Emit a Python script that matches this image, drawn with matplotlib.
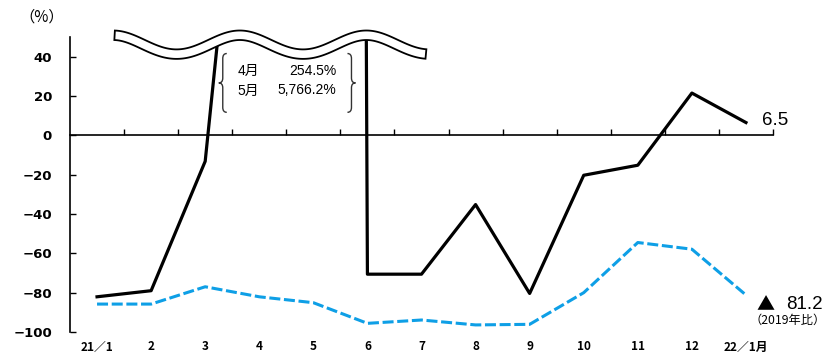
import matplotlib
matplotlib.use("Agg")
import matplotlib.pyplot as plt
import numpy as np
from matplotlib.patches import Polygon, PathPatch
from matplotlib.path import Path

# 月次データ（前年同月比 / 2019年同月比, %）
months = ["21／1", "2", "3", "4", "5", "6", "7", "8", "9", "10", "11", "12", "22／1月"]
yoy = [-82.1, -79.0, -13.2, 254.5, 5766.2, -70.6, -70.6, -35.2, -80.4, -20.3, -15.2, 21.5, 6.5]
vs2019 = [-85.8, -85.8, -77.0, -82.1, -85.1, -95.6, -93.9, -96.4, -96.1, -80.0, -54.5, -57.9, -81.2]
yticks = [-100, -80, -60, -40, -20, 0, 20, 40]

BLUE = "#0E9FE6"

plt.rcParams['font.family'] = ['Liberation Sans', 'Noto Sans CJK JP']

fig = plt.figure(figsize=(8.37, 3.56), dpi=100)
ax = fig.add_axes([70 / 837, 1 - 332 / 356, 703 / 837, 295 / 356])
x = np.arange(len(months))

ax.plot(x, vs2019, color=BLUE, lw=2.2, dashes=(3.6, 1.2), zorder=3)
ax.plot(x, yoy, color='black', lw=2.3, zorder=4)

ax.set_xlim(-0.5, len(months) - 0.5)
ax.set_ylim(-100, 50)

# 軸まわり
for s in ['top', 'right']:
    ax.spines[s].set_visible(False)
ax.spines['bottom'].set_position(('data', 0))
ax.spines['bottom'].set_linewidth(1.2)
ax.spines['left'].set_linewidth(1.2)

ax.set_xticks(x + 0.5)
ax.tick_params(axis='x', direction='in', length=4, width=1, labelbottom=False)
ax.set_yticks(yticks)
ax.tick_params(axis='y', direction='in', length=4, width=1, pad=13, labelsize=9.5)
for lab in ax.get_yticklabels():
    lab.set_fontfamily('DejaVu Sans')
    lab.set_fontweight('bold')

for i, m in enumerate(months):
    ax.text(i, -107.6, m, ha='center', va='center', fontsize=8.5,
            family='Noto Sans CJK JP', fontweight='bold', clip_on=False)

fig.text(42 / 837, 1 - 17 / 356, "（%）", ha='center', va='center',
         fontsize=11, family='Noto Sans CJK JP')

# 波線（軸の省略）: 上側の曲線を画面上で垂直方向にずらして帯にする
sx = 703 / len(months)
sy = 295 / 150
xw = np.linspace(0.33, 6.09, 200)
top = 48.5 + 4.8 * np.cos(2 * np.pi * (xw - 2.64) / 2.34)
slope = np.gradient(top * sy, xw * sx)
d = 9.5
nrm = np.sqrt(1 + slope ** 2)
bx = xw + d * slope / nrm / sx
by = top - d / nrm / sy
band = np.column_stack([np.r_[xw, bx[::-1]], np.r_[top, by[::-1]]])
ax.add_patch(Polygon(band, closed=True, fc='white', ec='black', lw=1.3,
                     zorder=6, clip_on=False))


def brace(xl, y_top, y_bot, w, r):
    # w > 0: 左かっこ, w < 0: 右かっこ
    mid = (y_top + y_bot) / 2
    verts = [(xl + w, y_top), (xl, y_top), (xl, y_top - r),
             (xl, mid + r),
             (xl, mid), (xl - w, mid),
             (xl, mid), (xl, mid - r),
             (xl, y_bot + r),
             (xl, y_bot), (xl + w, y_bot)]
    codes = [Path.MOVETO, Path.CURVE3, Path.CURVE3,
             Path.LINETO,
             Path.CURVE3, Path.CURVE3,
             Path.CURVE3, Path.CURVE3,
             Path.LINETO,
             Path.CURVE3, Path.CURVE3]
    ax.add_patch(PathPatch(Path(verts, codes), fc='none', ec='#333333', lw=1.0,
                           zorder=5, clip_on=False))


brace(2.325, 41.6, 11.7, 0.074, 2.5)
brace(4.705, 41.6, 11.7, -0.074, 2.5)

for i, yy in [(3, 32.5), (4, 22.8)]:
    ax.text(2.60, yy, months[i] + "月", ha='left', va='center', fontsize=10, zorder=7)
    ax.text(4.43, yy, f"{yoy[i]:,.1f}%", ha='right', va='center', fontsize=10, zorder=7)

# 末尾の値ラベル
ax.annotate(f"{yoy[-1]:.1f}", xy=(x[-1], yoy[-1]), xytext=(11.5, 1.5),
            textcoords='offset points', ha='left', va='center', fontsize=13.5,
            annotation_clip=False)
ax.annotate("▲", xy=(x[-1], vs2019[-1]), xytext=(7.5, -7),
            textcoords='offset points', ha='left', va='center', fontsize=13,
            family='Noto Sans CJK JP', annotation_clip=False)
ax.annotate(f"{abs(vs2019[-1]):.1f}", xy=(x[-1], vs2019[-1]), xytext=(29, -7),
            textcoords='offset points', ha='left', va='center', fontsize=13.5,
            annotation_clip=False)
ax.annotate("（2019年比）", xy=(x[-1], vs2019[-1]), xytext=(30, -18.5),
            textcoords='offset points', ha='center', va='center', fontsize=8.8,
            family='Noto Sans CJK JP', annotation_clip=False)

fig.savefig("out.png", dpi=100)
